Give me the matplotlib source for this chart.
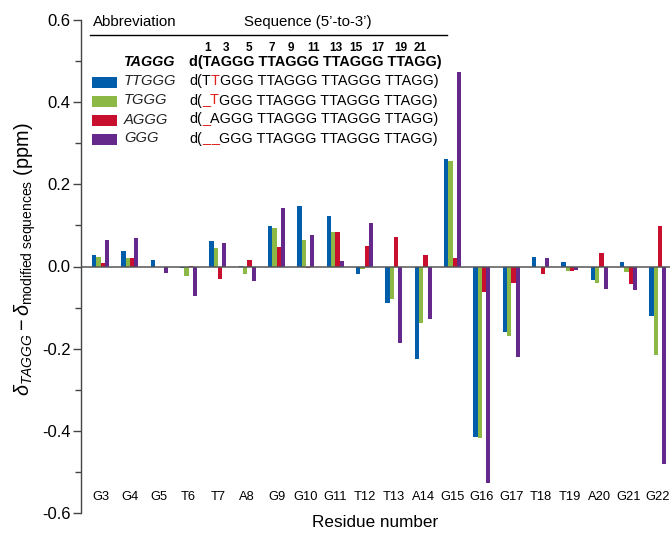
import numpy as np
import matplotlib
matplotlib.use('Agg')
import matplotlib.pyplot as plt
from matplotlib.transforms import IdentityTransform
from matplotlib.patches import Rectangle
from matplotlib.ticker import MultipleLocator

plt.rcParams['font.family'] = ['Liberation Sans', 'DejaVu Sans']
plt.rcParams['axes.unicode_minus'] = False
plt.rcParams['mathtext.fontset'] = 'custom'
plt.rcParams['mathtext.rm'] = 'Liberation Sans'
plt.rcParams['mathtext.it'] = 'Liberation Sans:italic'
plt.rcParams['mathtext.bf'] = 'Liberation Sans:bold'

residues = ['G3', 'G4', 'G5', 'T6', 'T7', 'A8', 'G9', 'G10', 'G11', 'T12',
            'T13', 'A14', 'G15', 'G16', 'G17', 'T18', 'T19', 'A20', 'G21', 'G22']
ttggg = [0.027, 0.037, 0.016, -0.003, 0.063, 0.002, 0.099, 0.148, 0.124, -0.019,
         -0.088, -0.226, 0.262, -0.415, -0.159, 0.023, 0.010, -0.032, 0.010, -0.120]
tggg = [0.022, 0.020, 0.0, -0.023, 0.045, -0.018, 0.093, 0.064, 0.085, -0.005,
        -0.079, -0.137, 0.256, -0.417, -0.169, 0.0, -0.010, -0.040, -0.013, -0.216]
aggg = [0.009, 0.020, 0.0, 0.002, -0.030, 0.016, 0.048, -0.003, 0.084, 0.050,
        0.073, 0.028, 0.020, -0.061, -0.040, -0.018, -0.011, 0.033, -0.043, 0.099]
ggg = [0.065, 0.070, -0.015, -0.072, 0.056, -0.035, 0.143, 0.077, 0.013, 0.107,
       -0.187, -0.128, 0.473, -0.527, -0.220, 0.020, -0.008, -0.054, -0.056, -0.481]

series_names = ['TTGGG', 'TGGG', 'AGGG', 'GGG']
series = [ttggg, tggg, aggg, ggg]
colors = ['#005DAA', '#8CB846', '#C8102E', '#65298C']

W, H = 670, 535
fig = plt.figure(figsize=(W / 100, H / 100), dpi=100)
ax = fig.add_axes([81 / W, 1 - 513 / H, (W - 81) / W, (513 - 20) / H])

x = np.arange(len(residues))
bw = 0.145
for k, (vals, c) in enumerate(zip(series, colors)):
    ax.bar(x + (k - 1.5) * bw, vals, width=bw, color=c, linewidth=0)

ax.axhline(0, color='#555555', lw=1.1, zorder=3)
ax.set_xlim(-0.67, 19.41)
ax.set_ylim(-0.6, 0.6)
ax.yaxis.set_major_locator(MultipleLocator(0.2))
ax.yaxis.set_minor_locator(MultipleLocator(0.1))
ax.yaxis.set_major_formatter(matplotlib.ticker.FormatStrFormatter('%.1f'))
for s in ['top', 'right', 'bottom']:
    ax.spines[s].set_visible(False)
ax.spines['left'].set_color('#444444')
ax.spines['left'].set_linewidth(1.0)
ax.tick_params(axis='y', which='major', length=5.5, width=1.0, color='#444444',
               labelsize=12, pad=2)
ax.tick_params(axis='y', which='minor', length=4, width=1.0, color='#444444')
ax.set_xticks(x)
ax.set_xticklabels(residues)
ax.tick_params(axis='x', length=0, labelsize=9.3, pad=-16)
ax.set_xlabel('Residue number', fontsize=12.3)
ax.xaxis.set_label_coords(0.5, -0.005)
ax.xaxis.label.set_va('top')
ax.set_ylabel(r'$\delta_{TAGGG} - \delta_{\mathrm{modified\ sequences}}\ \mathrm{(ppm)}$',
              fontsize=14.3)
ax.yaxis.set_label_coords(-0.073, 0.515)

# ---- table / legend ----
T = IdentityTransform()
def P(px, py):
    return px, H - py

renderer = fig.canvas.get_renderer()

fig.text(*P(93, 22), 'Abbreviation', transform=T, fontsize=10.8, va='center', ha='left')
fig.text(*P(308, 22), "Sequence (5\u2019-to-3\u2019)", transform=T, fontsize=10.8,
         va='center', ha='center')
fig.add_artist(plt.Line2D([90, 447], [H - 35, H - 35], transform=T, color='black', lw=1.0))

seq_fs = 10.4
seq_x0 = 189
ref_seq = 'd(TAGGG TTAGGG TTAGGG TTAGG)'
ref_t = fig.text(*P(seq_x0, 62), ref_seq, transform=T, fontsize=seq_fs,
                 fontweight='bold', va='center', ha='left')
fig.text(*P(124, 62), 'TAGGG', transform=T, fontsize=10.4, fontweight='bold',
         style='italic', va='center', ha='left')

# residue numbers above the reference sequence
prop = ref_t.get_fontproperties()
numbers = [1, 3, 5, 7, 9, 11, 13, 15, 17, 19, 21]
res_idx = [i for i, ch in enumerate(ref_seq) if ch in 'TAG']
for n in numbers:
    idx = res_idx[n - 1]
    w_full, _, _ = renderer.get_text_width_height_descent(ref_seq[:idx + 1], prop, ismath=False)
    w_ch, _, _ = renderer.get_text_width_height_descent(ref_seq[idx], prop, ismath=False)
    cx = seq_x0 + w_full - w_ch / 2
    fig.text(*P(cx, 48), str(n), transform=T, fontsize=8.5, fontweight='bold',
             va='center', ha='center')

rows = [
    [('d(T', 'k'), ('T', '#E0201B'), ('GGG TTAGGG TTAGGG TTAGG)', 'k')],
    [('d(', 'k'), ('_', '#E0201B'), ('T', '#E0201B'), ('GGG TTAGGG TTAGGG TTAGG)', 'k')],
    [('d(', 'k'), ('_', '#E0201B'), ('AGGG TTAGGG TTAGGG TTAGG)', 'k')],
    [('d(', 'k'), ('_', '#E0201B'), ('_', '#E0201B'), ('GGG TTAGGG TTAGGG TTAGG)', 'k')],
]
row_y = [81, 100.5, 119.5, 138.5]
for name, c, segs, yy in zip(series_names, colors, rows, row_y):
    fig.add_artist(Rectangle((92, H - yy - 6.5), 25, 11, transform=T,
                             facecolor=c, edgecolor='none'))
    fig.text(*P(124, yy), name, transform=T, fontsize=10.6, style='italic',
             va='center', ha='left', color='#222222')
    cx = seq_x0
    prev = None
    for s, col in segs:
        if prev == '_' and s == '_':
            cx += 1.5
        t = fig.text(cx, H - yy, s, transform=T, fontsize=seq_fs, va='center',
                     ha='left', color=col)
        bb = t.get_window_extent(renderer)
        cx = bb.x1
        prev = s

fig.savefig('out.png', dpi=100)
